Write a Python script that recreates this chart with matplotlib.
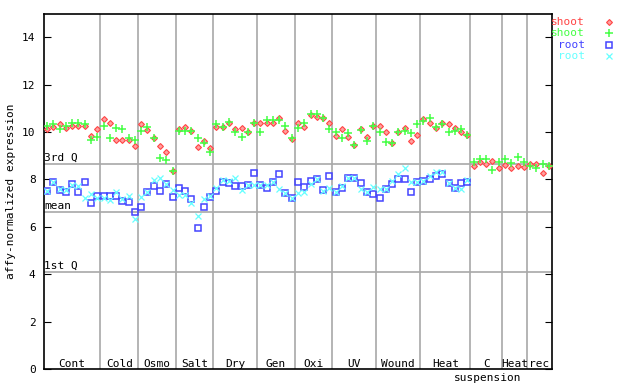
import matplotlib
matplotlib.use('Agg')
import matplotlib.pyplot as plt
import numpy as np

plt.rcParams['font.family'] = ['DejaVu Sans Mono']
plt.rcParams['font.size'] = 8

# groups along the x axis (number of samples in each)
groups = ['Cont', 'Cold', 'Osmo', 'Salt', 'Dry', 'Gen', 'Oxi', 'UV', 'Wound', 'Heat', 'C', 'Heat', 'rec']
group_sizes = [9, 6, 6, 6, 7, 6, 6, 7, 7, 8, 5, 4, 4]

shoot_rep1 = [10.13, 10.2, 10.33, 10.16, 10.25, 10.27, 10.27, 9.83, 10.12,
              10.54, 10.37, 9.67, 9.66, 9.66, 9.43,
              10.33, 10.08, 9.74, 9.43, 9.14, 8.34,
              10.12, 10.22, 10.04, 9.38, 9.61, 9.31,
              10.19, 10.19, 10.36, 10.12, 10.18, 9.98, 10.4,
              10.4, 10.36, 10.36, 10.57, 10.04, 9.69,
              10.4, 10.22, 10.71, 10.64, 10.57, 10.4,
              9.83, 10.11, 9.77, 9.45, 10.11, 9.77, 10.25,
              10.25, 9.98, 9.52, 10.01, 10.15, 9.63, 9.87,
              10.54, 10.36, 10.15, 10.39, 10.33, 10.15, 10.01, 9.87,
              8.56, 8.72, 8.67, 8.78, 8.46,
              8.6, 8.49, 8.56, 8.53,
              8.64, 8.64, 8.25, 8.56]
shoot_rep2 = [10.25, 10.33, 10.12, 10.25, 10.37, 10.37, 10.33, 9.68, 9.78,
              10.26, 9.74, 10.16, 10.12, 9.74, 9.66,
              10.04, 10.2, 9.74, 8.9, 8.8, 8.34,
              10.05, 10.04, 10.04, 9.73, 9.52, 9.17,
              10.32, 10.22, 10.43, 10.0, 9.77, 9.98, 10.36,
              9.98, 10.5, 10.5, 10.5, 10.25, 9.76,
              10.15, 10.36, 10.75, 10.75, 10.57, 10.11,
              10.01, 9.73, 9.94, 9.45, 10.08, 9.63, 10.25,
              10.01, 9.59, 9.55, 10.01, 10.05, 9.94, 10.33,
              10.46, 10.57, 10.19, 10.33, 9.98, 10.04, 10.11, 9.87,
              8.72, 8.88, 8.88, 8.39, 8.72,
              8.88, 8.7, 8.93, 8.72,
              8.58, 8.46, 8.67, 8.56]
root_rep1 = [7.52, 7.87, 7.56, 7.48, 7.81, 7.45, 7.91, 6.99, 7.31,
             7.3, 7.31, 7.31, 7.1, 7.06, 6.63,
             6.84, 7.45, 7.73, 7.53, 7.8, 7.24,
             7.62, 7.51, 7.16, 5.93, 6.84, 7.27,
             7.52, 7.87, 7.86, 7.72, 7.73, 7.76, 8.25,
             7.75, 7.62, 7.87, 8.21, 7.43, 7.2,
             7.87, 7.7, 7.93, 8.0, 7.55, 8.13,
             7.45, 7.62, 8.08, 8.07, 7.83, 7.45, 7.37,
             7.2, 7.59, 7.79, 8.0, 8.0, 7.45, 7.87,
             7.93, 8.0, 8.14, 8.22, 7.83, 7.65, 7.83, 7.9]
root_rep2 = [7.52, 7.87, 7.6, 7.55, 7.75, 7.72, 7.2, 7.38, 7.2,
             7.2, 7.13, 7.48, 7.16, 7.3, 6.35,
             7.24, 7.45, 7.97, 8.04, 7.8, 7.55,
             7.34, 7.34, 7.01, 6.45, 7.16, 7.3,
             7.62, 7.97, 7.93, 8.08, 7.55, 7.76, 7.76,
             7.75, 7.76, 7.87, 7.58, 7.43, 7.2,
             7.41, 7.45, 7.79, 8.01, 7.53, 7.64,
             7.45, 7.72, 8.06, 8.04, 7.58, 7.47, 7.66,
             7.58, 7.61, 7.93, 8.22, 8.46, 7.87, 7.89,
             7.93, 8.14, 8.32, 8.32, 7.83, 7.65, 7.58, 7.97]

# reference lines
q3_val = 8.67
mean_val = 6.61
q1_val = 4.09

red = '#ff4444'
green = '#44ff44'
blue = '#4444ff'
cyan = '#66ffff'
grey = '#a8a8a8'

fig = plt.figure(figsize=(6.4, 3.84), dpi=100)
ax = fig.add_axes([44/640, 15/384, (552-44)/640, (369-13.5)/384])

n = sum(group_sizes)
bounds = np.cumsum(group_sizes)
for b in bounds[:-1]:
    ax.axvline(b - 0.5, color=grey, lw=1.2, zorder=1)
for val, lab in [(q3_val, '3rd Q'), (mean_val, 'mean'), (q1_val, '1st Q')]:
    ax.axhline(val, color=grey, lw=1.2, zorder=1)
    ax.text(-0.45, val + 0.05, lab, ha='left', va='bottom', fontsize=8)

# marker styles
st_s1 = dict(marker='D', ms=3.0, mfc='#ff9f9f', mec=red, mew=0.8)
st_s2 = dict(marker='+', ms=5.5, color=green, mew=1.1)
st_r1 = dict(marker='s', ms=4.0, mfc='none', mec=blue, mew=1.1)
st_r2 = dict(marker='x', ms=4.0, color=cyan, mew=0.9)

xs = np.arange(n)
xr = np.arange(len(root_rep1))
ax.plot(xs, shoot_rep1, ls='none', zorder=3, **st_s1)
ax.plot(xs, shoot_rep2, ls='none', zorder=3, **st_s2)
ax.plot(xr, root_rep1, ls='none', zorder=3, **st_r1)
ax.plot(xr, root_rep2, ls='none', zorder=3, **st_r2)

# group labels along the bottom
starts = np.concatenate([[0], bounds[:-1]])
for s, size, name in zip(starts, group_sizes, groups):
    ax.text(s + size / 2 - 0.5, 0.22, name, ha='center', va='center', fontsize=8)
ax.text(bounds[10] - 2.8, -0.38, 'suspension', ha='center', va='center', fontsize=8, clip_on=False)

ax.set_xlim(-0.5, n - 0.5)
ax.set_ylim(0, 15)
ax.set_xticks([])
ax.set_yticks(np.arange(0, 15, 2))
ax.tick_params(axis='y', direction='in', length=5, right=True, labelsize=8, pad=6)
ax.set_ylabel('affy-normalized expression', fontsize=8)
ax.yaxis.set_label_coords(-28/508, 0.5)
for sp in ax.spines.values():
    sp.set_linewidth(1.2)

# legend outside on the right
leg = [('shoot', red, st_s1), ('shoot', green, st_s2), ('root', blue, st_r1), ('root', cyan, st_r2)]
for k, (lab, col, kw) in enumerate(leg):
    yy = 1 - (22 + 11.3 * k) / 384
    fig.text(585/640, yy, lab, color=col, ha='right', va='center', fontsize=8)
    fig.add_artist(plt.Line2D([609/640], [yy], transform=fig.transFigure, ls='none', **kw))

fig.savefig('out.png', dpi=100)
